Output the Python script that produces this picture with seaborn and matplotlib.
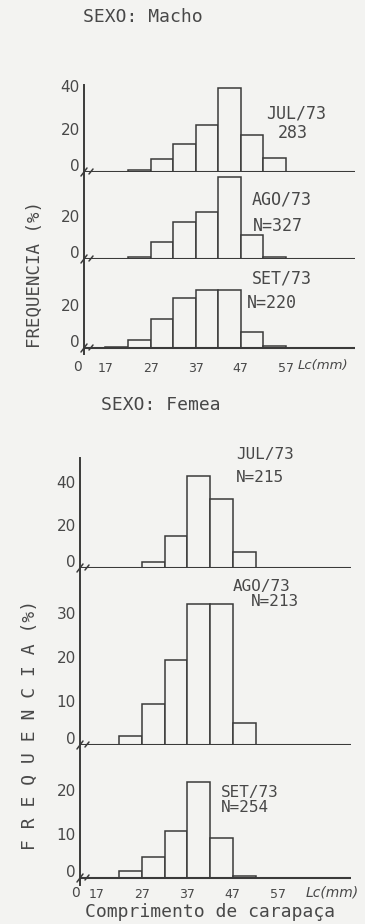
import numpy as np
import pandas as pd
import matplotlib
matplotlib.use("Agg")
import matplotlib.pyplot as plt
import matplotlib.transforms as mtransforms
from matplotlib.lines import Line2D
import seaborn as sns

# Carapace-length classes (lower bound, mm) and percentage frequency per month
BIN_WIDTH = 5
male_jul_classes = [22, 27, 32, 37, 42, 47, 52]
male_jul_pct = [0.8, 6, 13, 22, 39, 17, 6.5]
male_ago_classes = [22, 27, 32, 37, 42, 47, 52]
male_ago_pct = [1, 8, 17, 22, 38, 11, 0.8]
male_set_classes = [17, 22, 27, 32, 37, 42, 47, 52]
male_set_pct = [0.5, 3.7, 13.5, 23.3, 27, 27, 7.4, 0.9]

female_jul_classes = [27, 32, 37, 42, 47]
female_jul_pct = [3, 15, 43, 32, 7.5]
female_ago_classes = [22, 27, 32, 37, 42, 47]
female_ago_pct = [2, 9.3, 19.3, 32, 32, 5]
female_set_classes = [22, 27, 32, 37, 42, 47]
female_set_pct = [1.6, 4.8, 10.7, 21.8, 9.1, 0.5]

male_months = ["JUL/73", "AGO/73", "SET/73"]
male_n = ["283", "N=327", "N=220"]
female_months = ["JUL/73", "AGO/73", "SET/73"]
female_n = ["N=215", "N=213", "N=254"]

male_yticks = [[0, 20, 40], [0, 20], [0, 20]]
female_yticks = [[0, 20, 40], [0, 10, 20, 30], [0, 10, 20]]
x_ticks = [17, 27, 37, 47, 57]
x_tick_labels = ["17", "27", "37", "47", "57"]

PAPER = "#f3f3f1"
INK = "#3a3a3a"
TEXT = "#484848"
MONO = "DejaVu Sans Mono"

sns.set_style("white")
plt.rcParams["font.family"] = ["DejaVu Sans"]

W, H = 365, 924
fig = plt.figure(figsize=(W / 100, H / 100), dpi=100, facecolor=PAPER)


def fx(x):
    return x / W


def fy(y):
    return 1 - y / H


def ftext(x, y, s, **kw):
    kw.setdefault("color", TEXT)
    kw.setdefault("ha", "center")
    kw.setdefault("va", "center")
    fig.text(fx(x), fy(y), s, **kw)


def break_mark(x0, y0):
    # small axis-break strokes where the length axis meets the frequency axis
    for xs, ys in (((x0 - 3, x0 + 3), (y0 + 4, y0 - 4)),
                   ((x0 + 5, x0 + 9), (y0 + 2, y0 - 3))):
        fig.add_artist(Line2D([fx(v) for v in xs], [fy(v) for v in ys],
                              transform=fig.transFigure, color=INK, lw=1.1))


def panel(classes, pct, left, right, top, base, scale, below, mm0, mmk, yticks):
    ax = fig.add_axes([fx(left), fy(base + below), fx(right) - fx(left),
                       fy(top) - fy(base + below)])
    ax.set_facecolor("none")
    cls = np.asarray(classes, dtype=float)
    df = pd.DataFrame({"mid": cls + BIN_WIDTH / 2, "pct": pct})
    sns.histplot(data=df, x="mid", weights="pct", binwidth=BIN_WIDTH,
                 binrange=(cls[0], cls[-1] + BIN_WIDTH), ax=ax,
                 color=PAPER, edgecolor=INK, linewidth=1.1, alpha=1)
    ax.set_xlim((left - mm0) / mmk, (right - mm0) / mmk)
    ax.set_ylim(-below / scale, (base - top) / scale)
    ax.axhline(0, color=INK, lw=1.5, zorder=5)
    for s in ("top", "right", "bottom"):
        ax.spines[s].set_visible(False)
    ax.spines["left"].set_color(INK)
    ax.spines["left"].set_linewidth(1.4)
    ax.set_xlabel("")
    ax.set_ylabel("")
    ax.set_yticks(yticks, labels=[str(t) for t in yticks])
    ax.tick_params(axis="y", length=0, pad=3, labelsize=11, labelcolor=TEXT)
    ax.set_xticks([])
    lift = mtransforms.ScaledTranslation(0, 7 / 100, fig.dpi_scale_trans)
    t0 = ax.yaxis.get_major_ticks()[0]
    t0.label1.set_transform(t0.label1.get_transform() + lift)
    break_mark(left, base)
    return ax


# ---- males ----
m_left, m_right = 84, 355
m_mm0, m_mmk = 28.8, 4.51
male_layout = [(85, 172, 2.15, 0), (172, 259, 2.15, 0), (259, 348, 2.15, 6)]
male_data = [(male_jul_classes, male_jul_pct), (male_ago_classes, male_ago_pct),
             (male_set_classes, male_set_pct)]
male_axes = []
for (cls, pct), (top, base, sc, below), yt in zip(male_data, male_layout, male_yticks):
    male_axes.append(panel(cls, pct, m_left, m_right, top, base, sc, below,
                           m_mm0, m_mmk, yt))

ax = male_axes[-1]
ax.set_xticks(x_ticks, labels=x_tick_labels)
ax.tick_params(axis="x", length=0, pad=6, labelsize=9, labelcolor=TEXT)
ftext(77, 367, "0", fontsize=10)
ftext(323, 366, "Lc(mm)", fontsize=9.5, style="italic")

ftext(143, 17, "SEXO: Macho", fontsize=13, family=MONO)
ftext(35, 274, "FREQUENCIA (%)", fontsize=12.5, family=MONO, rotation=90)
male_label_pos = [((296, 113), (293, 133)), ((282, 199), (278, 226)),
                  ((282, 278), (272, 303))]
for mo, n, ((x1, y1), (x2, y2)) in zip(male_months, male_n, male_label_pos):
    ftext(x1, y1, mo, fontsize=12, family=MONO)
    ftext(x2, y2, n, fontsize=12, family=MONO)

# ---- females ----
f_left, f_right = 80, 351
f_mm0, f_mmk = 18.9, 4.55
female_layout = [(458, 568, 2.15, 0), (568, 745, 4.4, 0), (745, 878, 4.4, 7)]
female_data = [(female_jul_classes, female_jul_pct),
               (female_ago_classes, female_ago_pct),
               (female_set_classes, female_set_pct)]
female_axes = []
for (cls, pct), (top, base, sc, below), yt in zip(female_data, female_layout,
                                                  female_yticks):
    female_axes.append(panel(cls, pct, f_left, f_right, top, base, sc, below,
                             f_mm0, f_mmk, yt))

ax = female_axes[-1]
ax.set_xticks(x_ticks, labels=x_tick_labels)
ax.tick_params(axis="x", length=0, pad=2, labelsize=9, labelcolor=TEXT)
ftext(76, 893, "0", fontsize=10)
ftext(332, 892, "Lc(mm)", fontsize=10, style="italic")

ftext(161, 405, "SEXO: Femea", fontsize=13, family=MONO)
ftext(30, 725, "F R E Q U E N C I A (%)", fontsize=13, family=MONO, rotation=90)
ftext(210, 912, "Comprimento de carapaça", fontsize=13, family=MONO)
female_label_pos = [((265, 455), (260, 478)), ((262, 587), (275, 602)),
                    ((250, 793), (245, 807))]
for mo, n, ((x1, y1), (x2, y2)) in zip(female_months, female_n, female_label_pos):
    ftext(x1, y1, mo, fontsize=11.5, family=MONO)
    ftext(x2, y2, n, fontsize=11.5, family=MONO)

fig.savefig("out.png", dpi=100, facecolor=PAPER)
